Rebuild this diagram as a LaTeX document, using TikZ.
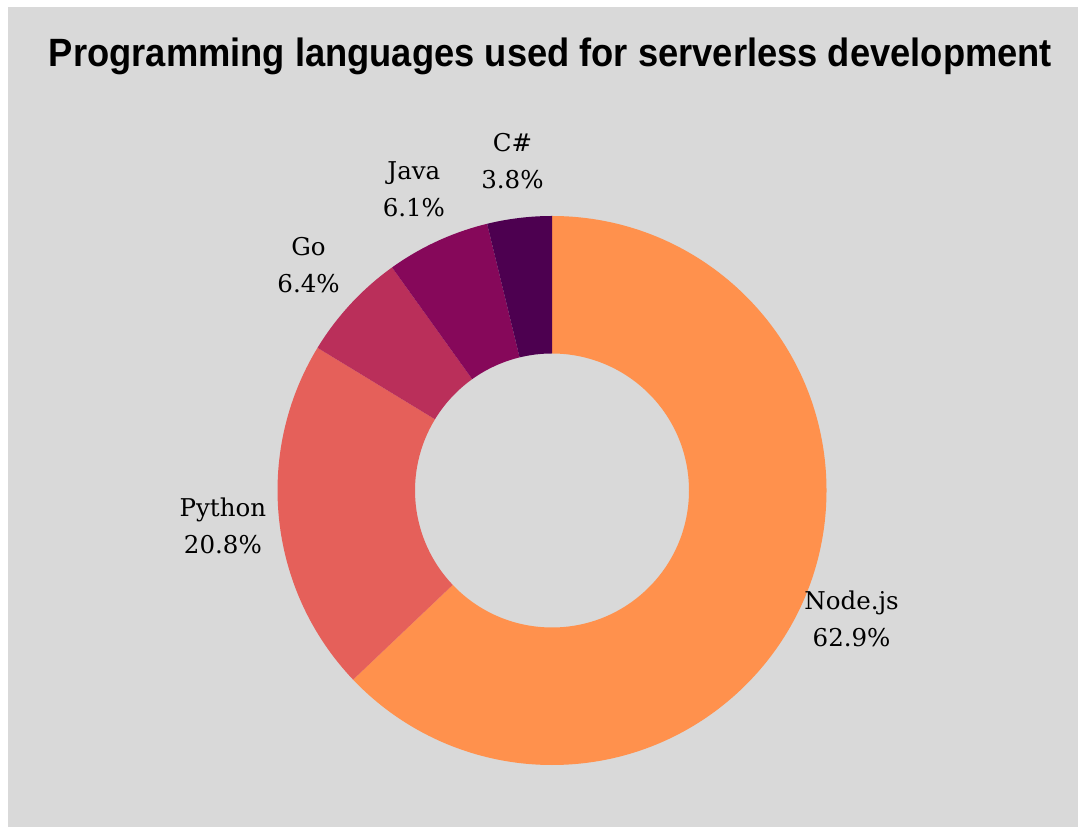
\documentclass[tikz,border=0pt]{standalone}
\usepackage{fontspec}
\setmainfont{DejaVu Serif}
\newfontfamily\titlefont{Liberation Sans}
\usetikzlibrary{calc}

\definecolor{bgray}{HTML}{D9D9D9}
\definecolor{cnode}{HTML}{FF914D}
\definecolor{cpython}{HTML}{E5605A}
\definecolor{cgo}{HTML}{BA2F5A}
\definecolor{cjava}{HTML}{86085A}
\definecolor{ccsharp}{HTML}{4D0050}

\tikzset{
  slicelabel/.style={align=center, inner sep=0pt, text=black,
    font=\fontsize{24.5}{37}\selectfont},
}

% ring segment between two angles (clockwise from a to b)
\newcommand\ringslice[3]{%
  \fill[#3] ($(ctr)+(#1:274.5pt)$) arc[start angle=#1, end angle=#2, radius=274.5pt]
    -- ($(ctr)+(#2:137pt)$) arc[start angle=#2, end angle=#1, radius=137pt] -- cycle;}

\begin{document}
\begin{tikzpicture}[x=1pt,y=1pt]
  \useasboundingbox (0,0) rectangle (1078,827);
  \fill[white] (0,0) rectangle (1078,827);
  \fill[bgray] (8,0) rectangle (1078,820);

  \node[anchor=base, inner sep=0pt] (title) at (550.5,760.3)
    {\resizebox{1003pt}{28.6pt}{\titlefont\bfseries Programming languages used for serverless development}};

  \coordinate (ctr) at (552,336.5);

  % slices, clockwise from twelve o'clock
  \ringslice{90}{-136.44}{cnode}
  \ringslice{-136.44}{-211.32}{cpython}
  \ringslice{-211.32}{-234.36}{cgo}
  \ringslice{-234.36}{-256.32}{cjava}
  \ringslice{-256.32}{-270}{ccsharp}

  \node[slicelabel] (lnode) at ($(ctr)+(-23.22:326pt)$) {Node.js\\62.9\%};
  \node[slicelabel] (lpython) at ($(ctr)+(-173.88:331pt)$) {Python\\20.8\%};
  \node[slicelabel] (lgo) at ($(ctr)+(-222.84:332pt)$) {Go\\6.4\%};
  \node[slicelabel] (ljava) at ($(ctr)+(-245.34:331pt)$) {Java\\6.1\%};
  \node[slicelabel] (lcsharp) at ($(ctr)+(-263.16:332pt)$) {C\#\\3.8\%};
\end{tikzpicture}
\end{document}
